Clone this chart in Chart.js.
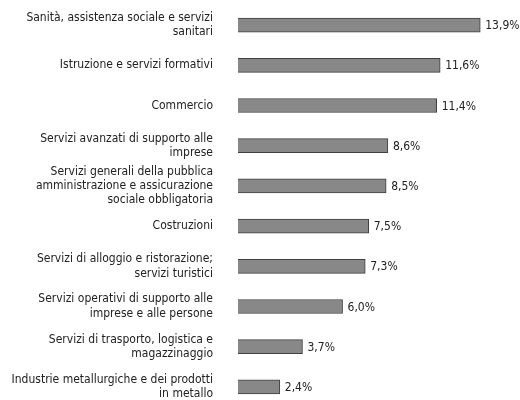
<!DOCTYPE html>
<html><head><meta charset="utf-8">
<script src="https://cdn.jsdelivr.net/npm/chart.js@4"></script>
<style>html,body{margin:0;padding:0;background:#fff;overflow:hidden}#wrap{width:520px;height:408px;position:relative}</style>
</head><body><div id="wrap"><canvas id="c"></canvas></div>
<script>
const categories = [
  ["Sanità, assistenza sociale e servizi", "sanitari"],
  ["Istruzione e servizi formativi"],
  ["Commercio"],
  ["Servizi avanzati di supporto alle", "imprese"],
  ["Servizi generali della pubblica", "amministrazione e assicurazione", "sociale obbligatoria"],
  ["Costruzioni"],
  ["Servizi di alloggio e ristorazione;", "servizi turistici"],
  ["Servizi operativi di supporto alle", "imprese e alle persone"],
  ["Servizi di trasporto, logistica e", "magazzinaggio"],
  ["Industrie metallurgiche e dei prodotti", "in metallo"]
];
const values = [13.9, 11.6, 11.4, 8.6, 8.5, 7.5, 7.3, 6.0, 3.7, 2.4];
const valueLabels = values.map(v => v.toFixed(1).replace('.', ',') + '%');

const FONT = "'Liberation Sans Narrow', 'DejaVu Sans Condensed', 'Roboto', sans-serif";

const valuePlugin = {
  id: 'valueLabels',
  afterDatasetsDraw(chart) {
    const ctx = chart.ctx;
    const meta = chart.getDatasetMeta(0);
    ctx.save();
    ctx.font = "12px " + FONT;
    ctx.fillStyle = '#222';
    ctx.textAlign = 'left';
    ctx.textBaseline = 'middle';
    meta.data.forEach((bar, i) => {
      ctx.fillText(valueLabels[i], bar.x + 5, bar.y + 1);
    });
    ctx.restore();
  }
};

new Chart(document.getElementById('c'), {
  type: 'bar',
  data: {
    labels: categories,
    datasets: [{
      data: values,
      backgroundColor: '#888888',
      borderColor: '#3f3f3f',
      borderWidth: 1,
      barThickness: 14
    }]
  },
  options: {
    indexAxis: 'y',
    responsive: true,
    maintainAspectRatio: false,
    animation: false,
    layout: { padding: { top: 5, right: 38, left: 0, bottom: 1 } },
    plugins: { legend: { display: false }, tooltip: { enabled: false } },
    scales: {
      x: { display: false, min: 0, max: 14 },
      y: {
        grid: { display: false },
        border: { display: false },
        ticks: {
          color: '#222',
          padding: 17,
          autoSkip: false,
          font: { family: FONT, size: 12, lineHeight: 1.2 }
        },
        afterFit(scale) { scale.width = 238; scale.paddingTop = 0; scale.paddingBottom = 0; }
      }
    }
  },
  plugins: [valuePlugin]
});
</script></body></html>
